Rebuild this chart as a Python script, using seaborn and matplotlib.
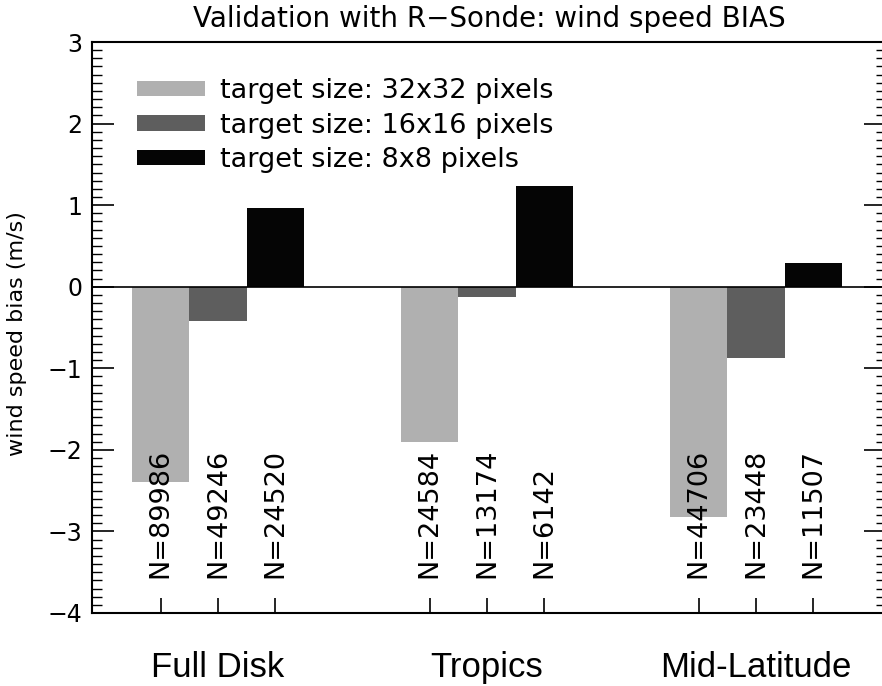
import numpy as np
import pandas as pd
import seaborn as sns
import matplotlib.pyplot as plt
from matplotlib.ticker import MultipleLocator, NullFormatter
from matplotlib.transforms import blended_transform_factory

# datos
regions = ['Full Disk', 'Tropics', 'Mid-Latitude']
sizes = ['target size: 32x32 pixels', 'target size: 16x16 pixels',
         'target size: 8x8 pixels']
bias_32 = [-2.40, -1.90, -2.82]
bias_16 = [-0.42, -0.12, -0.87]
bias_8 = [0.97, 1.23, 0.29]
n_32 = [89986, 24584, 44706]
n_16 = [49246, 13174, 23448]
n_8 = [24520, 6142, 11507]
colors = ['#b0b0b0', '#5e5e5e', '#050505']

df = pd.DataFrame({
    'region': regions * 3,
    'size': [sizes[0]] * 3 + [sizes[1]] * 3 + [sizes[2]] * 3,
    'bias': bias_32 + bias_16 + bias_8,
})
counts = [n_32, n_16, n_8]

sns.set_style('white')
plt.rcParams['font.family'] = ['DejaVu Sans']
plt.rcParams['text.color'] = 'black'
plt.rcParams['axes.labelcolor'] = 'black'
plt.rcParams['xtick.color'] = 'black'
plt.rcParams['ytick.color'] = 'black'

fig = plt.figure(figsize=(8.82, 6.86), dpi=100)
ax = fig.add_axes([92 / 882, 73 / 686, 794 / 882, 571 / 686])

sns.barplot(data=df, x='region', y='bias', hue='size', order=regions,
            hue_order=sizes, palette=dict(zip(sizes, colors)), width=0.64,
            linewidth=0, saturation=1, ax=ax)

ax.axhline(0, color='black', lw=1.2, zorder=3)
ax.set_xlim(-0.468, 2.483)
ax.set_ylim(-4, 3)

# etiquetas N= en cada barra
xpos = []
for k, cont in enumerate(ax.containers):
    for i, bar in enumerate(cont):
        xc = bar.get_x() + bar.get_width() / 2
        xpos.append(xc)
        ax.text(xc, -3.57, 'N=%d' % counts[k][i], rotation=90,
                ha='center', va='bottom', fontsize=19.5, zorder=4)

ax.set_xticks(sorted(xpos))
ax.xaxis.set_major_formatter(NullFormatter())
ax.yaxis.set_major_locator(MultipleLocator(1))
ax.yaxis.set_minor_locator(MultipleLocator(0.1))

ax.tick_params(axis='x', direction='in', length=11, width=1.2,
               top=False, bottom=True)
ax.tick_params(axis='y', which='major', direction='in', length=16, width=1.2,
               left=True, right=True, labelsize=17, pad=7)
ax.tick_params(axis='y', which='minor', direction='in', length=7, width=1,
               left=True, right=True)
for sp in ax.spines.values():
    sp.set_linewidth(1.5)
    sp.set_color('black')

ax.set_xlabel('')
ax.set_ylabel('wind speed bias (m/s)', fontsize=16)
ax.yaxis.set_label_coords(-0.082, 0.49)
ax.set_title('Validation with R\u2212Sonde: wind speed BIAS', fontsize=20,
             pad=11)

# nombres de las regiones debajo del eje
lab_trans = blended_transform_factory(ax.transData, ax.transAxes)
for i, r in enumerate(regions):
    ax.text(i, -0.095, r, transform=lab_trans, ha='center', va='center',
            fontsize=25, family='Liberation Sans')

leg = ax.legend(loc='upper left', bbox_to_anchor=(45 / 794, 1 - 36 / 571),
                frameon=False, fontsize=19.5, handlelength=2.5,
                handleheight=0.5, handletextpad=0.55, labelspacing=0.32,
                borderpad=0, borderaxespad=0)

fig.savefig('out.png', dpi=100)
